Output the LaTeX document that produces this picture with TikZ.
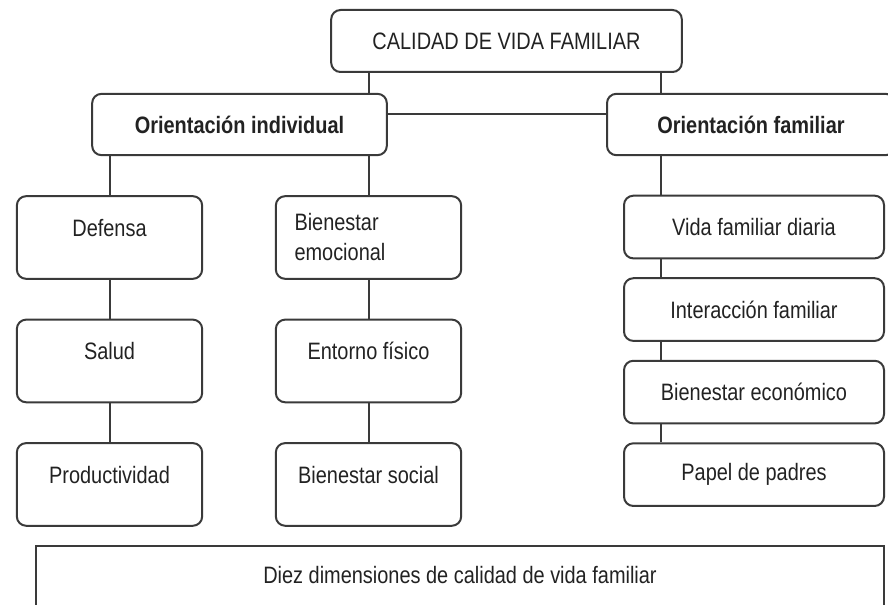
\documentclass[tikz,border=0pt]{standalone}
\usepackage{fontspec}
\setmainfont[FakeStretch=0.84]{Liberation Sans}
\usetikzlibrary{positioning}

\definecolor{linea}{HTML}{3A3A3A}
\definecolor{texto}{HTML}{222222}

\tikzset{
	caja/.style={draw=linea, line width=1.5pt, rounded corners=7pt, inner sep=0pt, text=texto, font=\fontsize{17.8}{22.5}\selectfont},
	cajaalta/.style={caja, minimum width=139pt, text height=30pt, text depth=32pt},
	cajaancha/.style={caja, minimum width=195pt, minimum height=47pt},
	conector/.style={draw=linea, line width=1.5pt}
}

\begin{document}
\begin{tikzpicture}[x=0.75pt, y=-0.75pt, on grid, node distance=92.6pt]
	\useasboundingbox (0,0) rectangle (888,605);
	\node[caja, minimum width=263pt, minimum height=46.5pt] (cvf) at (506.5,41) {CALIDAD DE VIDA FAMILIAR};
	\node[caja, minimum width=221pt, minimum height=46pt, font=\fontsize{17.8}{22.5}\selectfont\bfseries] (oi) at (239.5,124.5) {Orientación individual};
	\node[caja, minimum width=216pt, minimum height=46pt, font=\fontsize{17.8}{22.5}\selectfont\bfseries] (of) at (751,124.5) {Orientación familiar};

	\node[cajaalta, below left=84.75pt and 97.5pt of oi] (defensa) {Defensa};
	\node[cajaalta, below=of defensa] (salud) {Salud};
	\node[cajaalta, below=of salud] (prod) {Productividad};

	\node[caja, minimum width=139pt, minimum height=62pt, text width=111pt, align=left, below right=84.75pt and 96.75pt of oi] (bem) {Bienestar\\emocional};
	\node[cajaalta, below=of bem] (ent) {Entorno físico};
	\node[cajaalta, below=of ent] (bsoc) {Bienestar social};

	\node[cajaancha, below right=76.9pt and 2.25pt of of] (vfd) {Vida familiar diaria};
	\node[cajaancha, below=61.9pt of vfd] (inter) {Interacción familiar};
	\node[cajaancha, below=61.9pt of inter] (beco) {Bienestar económico};
	\node[cajaancha, below=61.9pt of beco] (papel) {Papel de padres};
	\coordinate (eje) at ([xshift=28.5pt]vfd.north west);

	\node[caja, sharp corners, minimum width=636pt, text height=27.75pt, text depth=27.75pt] (diez) at (460,583) {Diez dimensiones de calidad de vida familiar};

	\draw[conector] (cvf.south -| bem.north) -- (oi.north -| bem.north)
		(cvf.south -| eje) -- (of.north -| eje)
		([yshift=7.9pt]oi.east) -- ([yshift=7.9pt]oi.east -| of.west)
		(oi.south -| defensa.north) -- (defensa.north)
		(oi.south -| bem.north) -- (bem.north)
		(of.south -| eje) -- (eje);
	\foreach \a/\b in {defensa/salud, salud/prod, bem/ent, ent/bsoc}
		\draw[conector] (\a.south) -- (\b.north);
	\foreach \a/\b in {vfd/inter, inter/beco, beco/papel}
		\draw[conector] (\a.south -| eje) -- (\b.north -| eje);
\end{tikzpicture}
\end{document}
